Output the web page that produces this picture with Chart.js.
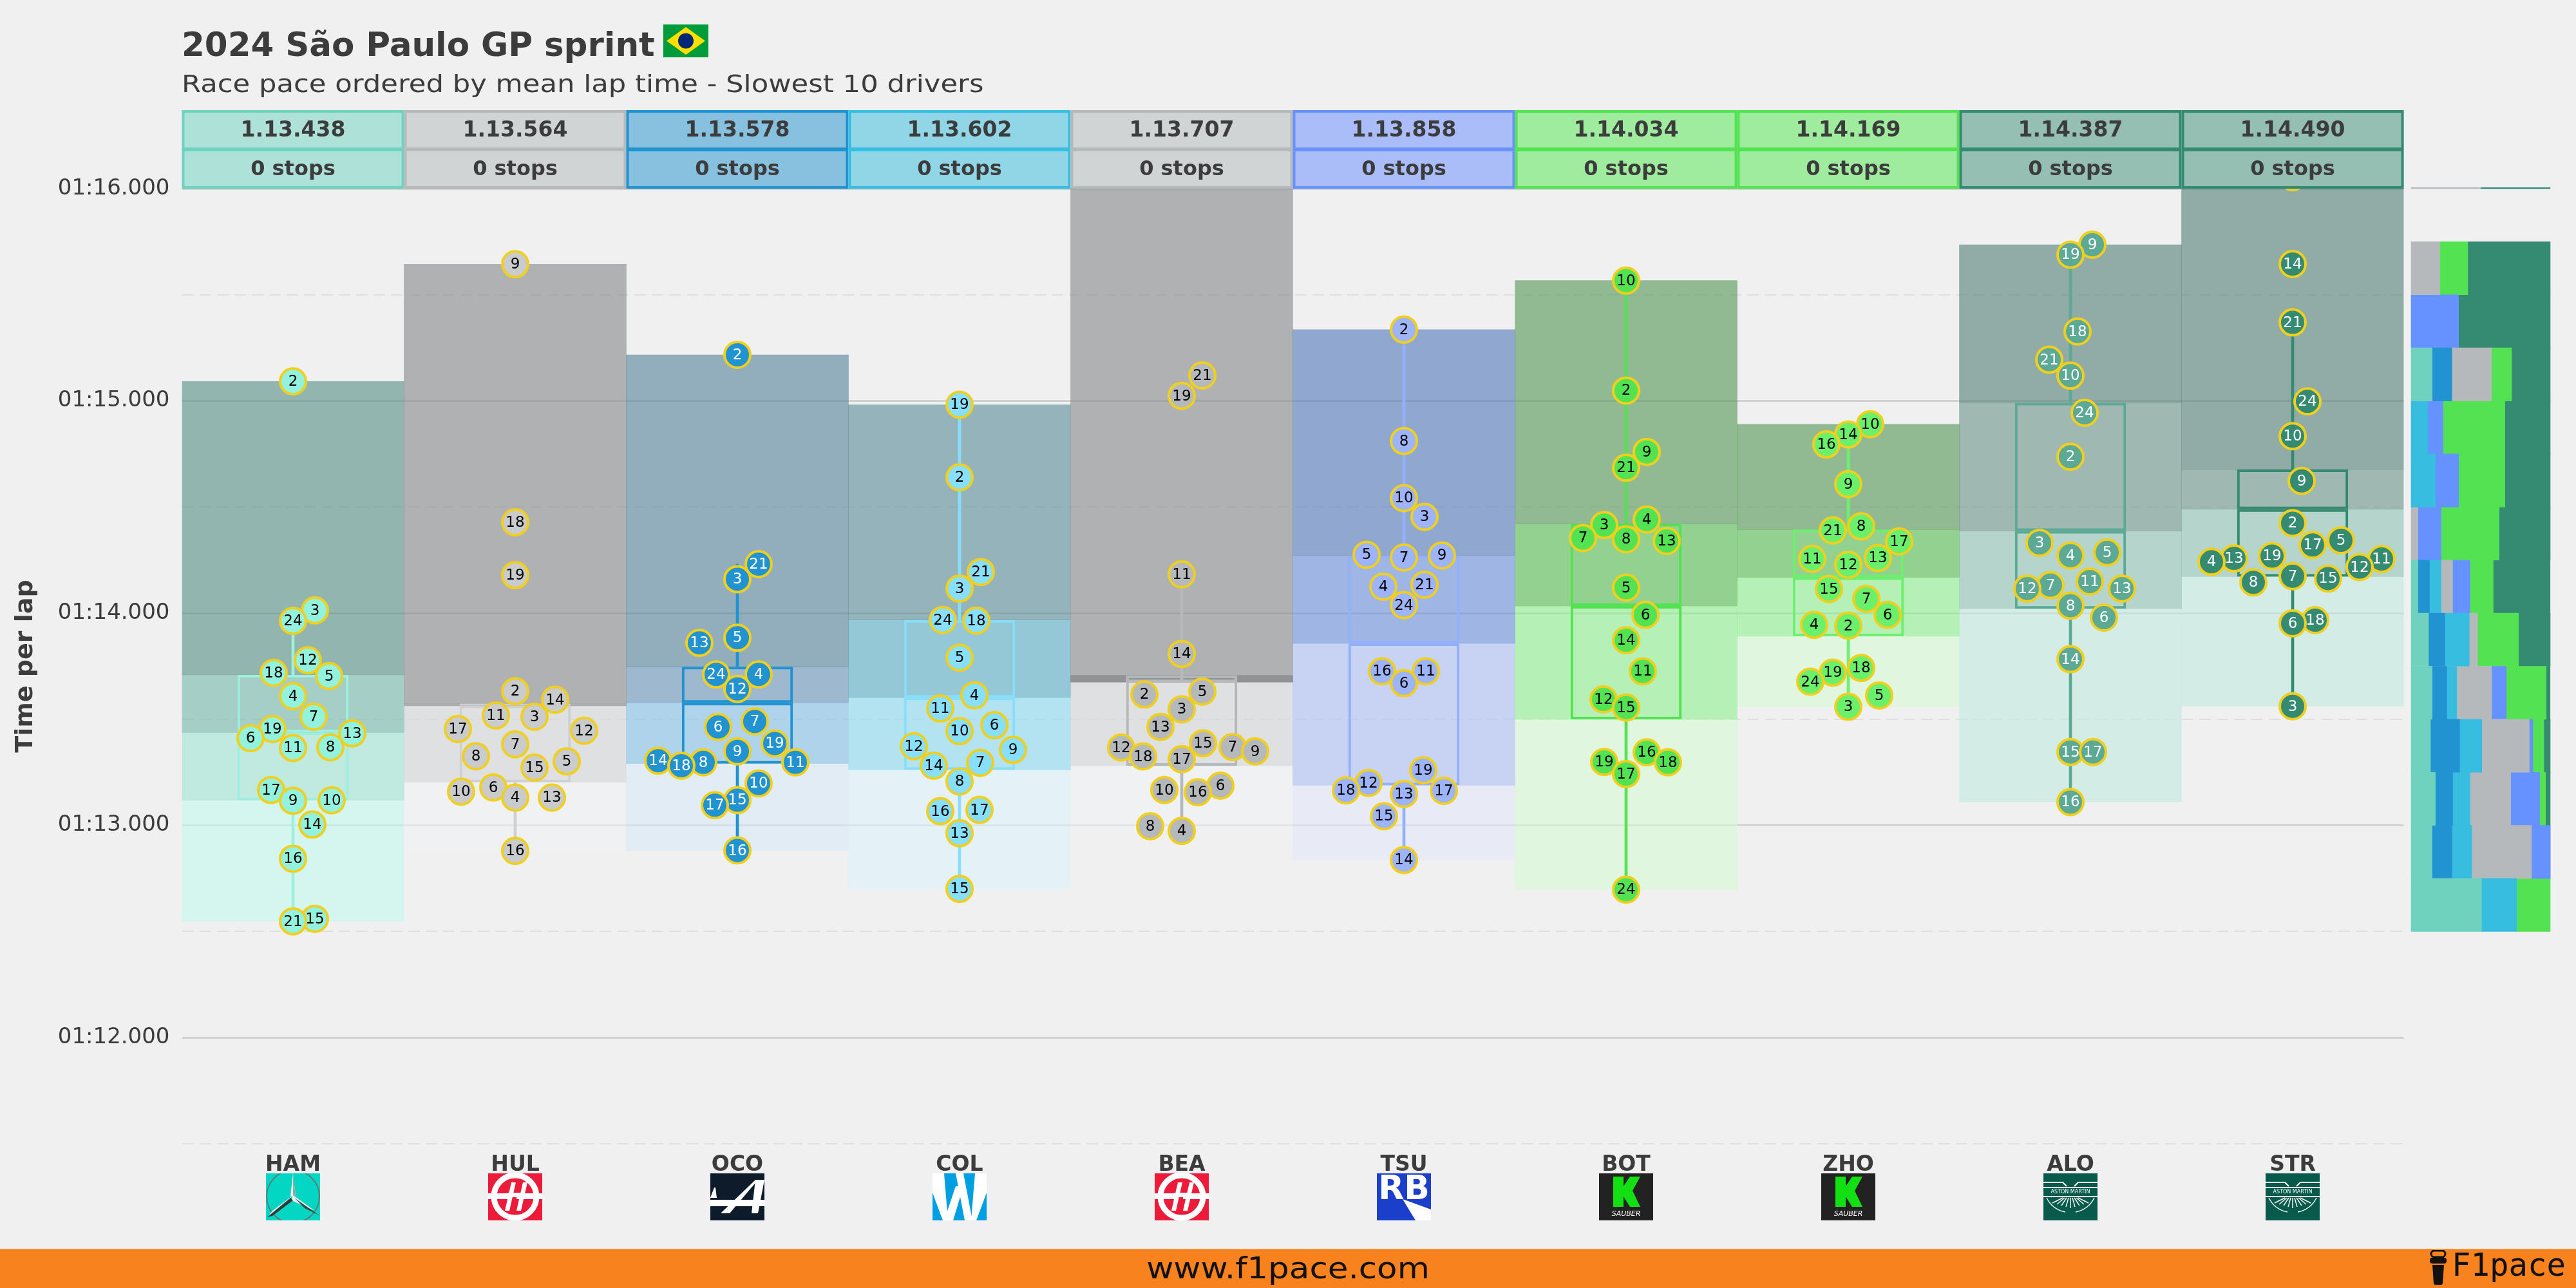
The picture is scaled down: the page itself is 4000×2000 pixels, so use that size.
<!DOCTYPE html>
<html><head><meta charset="utf-8">
<script src="https://cdn.jsdelivr.net/npm/chart.js@4"></script>
<style>
html,body{margin:0;padding:0;background:#f0f0f0;width:4000px;height:2000px;overflow:hidden;font-family:"DejaVu Sans"}
canvas{position:absolute;left:0;top:0}
.t{position:absolute;white-space:nowrap;color:#3c3c3c}
#title{left:282px;top:39px;font:bold 52px "DejaVu Sans";transform:scaleX(.99);transform-origin:0 0}
#sub{left:282px;top:108px;font:38px "DejaVu Sans";transform:scaleX(1.14);transform-origin:0 0}
#bar{position:absolute;left:0;top:1939px;width:4000px;height:61px;background:#f7821e;border-top:1px solid #f3a868;box-sizing:border-box}
#url{left:0;width:4000px;text-align:center;top:1942px;font:46px "DejaVu Sans";color:#111;transform:scaleX(1.12);transform-origin:50% 0}
#brand{left:3807px;top:1936px;font:49px "DejaVu Sans Mono";color:#111}
#ico{position:absolute;left:3770px;top:1941px}
</style></head><body>
<canvas id="main" width="4000" height="2000"></canvas>
<canvas id="side" width="4000" height="2000"></canvas>
<div class="t" id="title">2024 São Paulo GP sprint</div>
<div class="t" id="sub">Race pace ordered by mean lap time - Slowest 10 drivers</div>
<div id="bar"></div>
<div class="t" id="url">www.f1pace.com</div>
<svg id="ico" width="32" height="55" viewBox="0 0 32 55"><rect x="5" y="1" width="22" height="10" rx="5" fill="none" stroke="#111" stroke-width="3"/><rect x="3" y="12" width="26" height="9" rx="4" fill="#111"/><path d="M7 23h18l-2 29a3 3 0 0 1-3 2h-8a3 3 0 0 1-3-2z" fill="#111"/></svg>
<div class="t" id="brand">F1pace</div>
<script>
// ---------- categories ----------
const drivers=['HAM','HUL','OCO','COL','BEA','TSU','BOT','ZHO','ALO','STR'];
const meanLabels=['1.13.438','1.13.564','1.13.578','1.13.602','1.13.707','1.13.858','1.14.034','1.14.169','1.14.387','1.14.490'];
const stopLabels=['0 stops','0 stops','0 stops','0 stops','0 stops','0 stops','0 stops','0 stops','0 stops','0 stops'];
const logos=['mercedes','haas','alpine','williams','haas','rb','sauber','sauber','aston','aston'];

// ---------- box statistics (seconds) ----------
const mins=[72.548,72.880,72.882,72.701,72.974,72.837,72.697,73.559,73.110,73.561];
const q1s=[73.118,73.203,73.291,73.262,73.281,73.189,73.500,73.891,74.021,74.172];
const means=[73.438,73.564,73.578,73.602,73.707,73.858,74.034,74.169,74.387,74.490];
const q3s=[73.709,73.574,73.748,73.968,73.675,74.272,74.421,74.394,74.991,74.677];
const maxs=[75.092,75.644,75.217,74.982,76.100,75.336,75.567,74.890,75.736,76.055];
const whiskLow=[72.548,72.880,72.882,72.701,72.974,72.837,72.697,73.559,73.110,73.561];
const whiskHigh=[74.013,73.632,74.231,74.982,74.183,75.336,75.567,74.890,75.736,75.370];

// ---------- laps: lap number, lap time (s), sideways spread in the swarm (1/345 of a column) ----------
const HAM_laps=[2,3,24,12,18,5,4,7,19,13,6,11,8,17,9,10,14,16,15,21];
const HAM_times=[75.092,74.013,73.964,73.778,73.719,73.704,73.609,73.512,73.454,73.434,73.411,73.365,73.368,73.167,73.116,73.118,73.004,72.843,72.560,72.548];
const HAM_spread=[0,34,0,23,-30,56,0,32,-32,92,-66,0,58,-34,0,60,30,0,34,0];
const HUL_laps=[9,18,19,2,14,11,3,17,12,7,8,5,15,6,10,4,13,16];
const HUL_times=[75.644,74.428,74.179,73.632,73.592,73.518,73.512,73.454,73.446,73.382,73.326,73.302,73.272,73.179,73.159,73.131,73.131,72.880];
const HUL_spread=[0,0,0,0,62,-30,30,-89,107,0,-61,80,30,-34,-84,0,57,0];
const OCO_laps=[2,21,3,5,13,24,4,12,7,6,19,9,14,8,11,18,10,15,17,16];
const OCO_times=[75.217,74.231,74.160,73.884,73.860,73.711,73.711,73.643,73.490,73.464,73.386,73.349,73.305,73.297,73.297,73.281,73.198,73.119,73.095,72.882];
const OCO_spread=[0,33,0,0,-59,-33,33,0,27,-30,58,0,-123,-53,90,-87,33,0,-35,0];
const COL_laps=[19,2,21,3,24,18,5,4,11,6,10,12,9,7,14,8,17,16,13,15];
const COL_times=[74.982,74.640,74.194,74.116,73.968,73.965,73.790,73.613,73.551,73.472,73.444,73.373,73.356,73.295,73.281,73.207,73.073,73.067,72.963,72.701];
const COL_spread=[0,0,33,0,-26,26,0,23,-30,54,0,-71,83,32,-40,0,31,-30,0,0];
const BEA_laps=[24,21,19,11,14,5,2,3,13,15,7,12,9,18,17,6,10,16,8,4];
const BEA_times=[76.100,75.120,75.024,74.183,73.808,73.630,73.617,73.547,73.464,73.387,73.369,73.367,73.349,73.325,73.312,73.187,73.167,73.156,72.996,72.974];
const BEA_spread=[0,32,0,0,0,32,-58,0,-33,33,79,-94,114,-60,0,60,-27,25,-49,0];
const TSU_laps=[2,8,10,3,5,9,7,21,4,24,16,11,6,19,12,18,17,13,15,14];
const TSU_times=[75.336,74.811,74.542,74.454,74.275,74.272,74.262,74.134,74.125,74.038,73.726,73.726,73.670,73.260,73.200,73.165,73.163,73.148,73.043,72.837];
const TSU_spread=[0,0,0,32,-58,59,0,32,-32,0,-34,34,0,30,-55,-90,62,0,-31,0];
const BOT_laps=[10,2,9,21,4,3,7,8,13,5,6,14,11,12,15,16,19,18,17,24];
const BOT_times=[75.567,75.049,74.760,74.685,74.441,74.415,74.354,74.348,74.340,74.120,73.992,73.872,73.726,73.594,73.555,73.344,73.299,73.297,73.242,72.697];
const BOT_spread=[0,0,32,0,32,-34,-67,0,63,0,30,0,26,-35,0,32,-34,65,0,0];
const ZHO_laps=[10,14,16,9,8,21,17,13,11,12,15,7,6,4,2,18,19,24,5,3];
const ZHO_times=[74.890,74.842,74.795,74.608,74.409,74.390,74.338,74.260,74.256,74.228,74.114,74.067,73.992,73.945,73.941,73.742,73.720,73.677,73.612,73.559];
const ZHO_spread=[34,0,-34,0,20,-24,79,46,-56,0,-30,28,61,-53,0,20,-24,-59,48,0];
const ALO_laps=[9,19,18,21,10,24,2,3,5,4,11,7,12,13,8,6,14,15,17,16];
const ALO_times=[75.736,75.689,75.327,75.194,75.119,74.944,74.737,74.331,74.286,74.271,74.149,74.132,74.116,74.116,74.035,73.979,73.783,73.346,73.346,73.110];
const ALO_spread=[34,0,11,-33,0,22,0,-48,57,0,30,-31,-67,80,0,52,0,0,35,0];
const STR_laps=[16,14,21,24,10,9,2,5,17,19,13,11,4,12,7,15,8,18,6,3];
const STR_times=[76.055,75.645,75.370,74.998,74.834,74.623,74.424,74.343,74.321,74.269,74.258,74.255,74.242,74.217,74.174,74.163,74.145,73.967,73.952,73.561];
const STR_spread=[0,0,0,23,0,14,0,75,31,-32,-91,138,-126,104,0,55,-61,35,0,0];

// ---------- side panel: share of laps per team in each 0.25 s bin ----------
const binCentres=[72.625,72.875,73.125,73.375,73.625,73.875,74.125,74.375,74.625,74.875,75.125,75.375,75.625,76.125];
const shareMercedes=[50.6,15,17.4,13.9,15.1,12.5,4.9,0,0,0,15.1,0,0,0];
const shareAlpine=[0,14.4,12.5,21,10.6,11.7,8.3,0,0,0,14.2,0,0,0];
const shareWilliams=[25.2,14.2,12.5,15.9,7.1,17.6,8.3,0,17.4,11.9,0,0,0,0];
const shareHaas=[0,42.9,29.2,34.1,25,5.9,8.3,4.9,0,0,28.5,0,20.7,50];
const shareRB=[0,13.6,20.8,2.6,10.6,0,12.5,16.7,16.7,11.1,0,34.1,0,0];
const shareSauber=[24.2,0,4.2,7.9,28.7,29.5,16.7,41.7,33.3,44.4,14.4,0,20,0];
const shareAston=[0,0,3.4,4.6,2.8,22.8,40.9,36.7,32.6,32.6,27.8,65.9,59.3,50];

// ---------- styles ----------
const F='"DejaVu Sans"', INK='#3c3c3c', BG=240;
const markFill=['#92f2dd','#c9cbcd','#2293d1','#88dffa','#b6b9bc','#9db4f8','#52e252','#6af06a','#5ca996','#358a72'];
const boxCol=['#9ef0de','#cfd0d2','#2293d1','#86defb','#b6b9bc','#95b0fb','#52e252','#6df06d','#5ca996','#358a72'];
const labelCol=['#000','#000','#fff','#000','#000','#000','#000','#000','#fff','#fff'];
const headFill=['#aee1d8','#d1d4d5','#88c0e0','#91d6e7','#d1d4d5','#abbdf9','#a0ec9e','#a0ec9e','#94bfb2','#94bfb2'];
const headEdge=['#6fd2bf','#b6b9bc','#2293d1','#37bde0','#b6b9bc','#6692ff','#52e252','#52e252','#358a72','#358a72'];
const bandTop=['#92b5af','#b0b1b3','#92adbb','#94b3ba','#b0b1b3','#90a8cf','#92ba92','#92ba92','#91aca6','#91aca6'];
const bandUp=['#a5cfc6','#acaeb0','#9db8cf','#94c8d6','#acaeb0','#9fb5e3','#93d190','#93d190','#9fb9b2','#9fb9b2'];
const bandDown=['#c0e9e0','#dfe0e2','#b0d3ec','#b3e3f1','#dfe0e2','#c8d3f3','#b5f0b6','#b5f0b6','#b4d4cc','#b4d4cc'];
const bandLow=['#d5f6ee','#f0f1f3','#e2ecf5','#e4f1f7','#f0f1f3','#e8ebf6','#e1f6df','#e1f6df','#d3ede6','#d3ede6'];
const A=.6;
function glass(hex){const n=parseInt(hex.slice(1),16),c=[n>>16,(n>>8)&255,n&255].map(v=>Math.max(0,Math.round((v-(1-A)*BG)/A)));return `rgba(${c[0]},${c[1]},${c[2]},${A})`;}

const lapSets=[[HAM_laps,HAM_times,HAM_spread],[HUL_laps,HUL_times,HUL_spread],[OCO_laps,OCO_times,OCO_spread],[COL_laps,COL_times,COL_spread],[BEA_laps,BEA_times,BEA_spread],[TSU_laps,TSU_times,TSU_spread],[BOT_laps,BOT_times,BOT_spread],[ZHO_laps,ZHO_times,ZHO_spread],[ALO_laps,ALO_times,ALO_spread],[STR_laps,STR_times,STR_spread]];
const span=(a,b)=>a.map((v,i)=>[v,b[i]]);
const band=(lo,hi,col)=>({type:'bar',xAxisID:'x',yAxisID:'y',order:5,grouped:false,barPercentage:1,categoryPercentage:1,borderWidth:0,backgroundColor:col.map(glass),data:span(lo,hi)});
const box=(lo,hi)=>({type:'bar',xAxisID:'x',yAxisID:'y',order:3,grouped:false,barPercentage:.5,categoryPercentage:1,borderWidth:4,borderSkipped:false,borderColor:boxCol,backgroundColor:'rgba(0,0,0,0)',data:span(lo,hi)});
const whisk=(lo,hi)=>({type:'bar',xAxisID:'x',yAxisID:'y',order:2,grouped:false,barThickness:4,borderWidth:0,backgroundColor:boxCol,data:span(lo,hi)});
const swarm=lapSets.map(([l,t,s],i)=>({type:'scatter',xAxisID:'xs',yAxisID:'y',order:1,lapNumbers:l,labelColour:labelCol[i],pointRadius:20,pointBorderWidth:4,pointBackgroundColor:markFill[i],pointBorderColor:'#f0cf1e',data:t.map((v,k)=>({x:i+s[k]/345,y:v}))}));

function clock(v){const m=Math.floor(v/60),s=v-m*60;return String(m).padStart(2,'0')+':'+String(s).padStart(2,'0')+'.000';}

function drawLogo(c,kind,x,y){const w=84,h=73;c.save();c.beginPath();c.rect(x,y,w,h);c.clip();
 const poly=(col,p)=>{c.fillStyle=col;c.beginPath();p.forEach((q,i)=>i?c.lineTo(x+q[0],y+q[1]):c.moveTo(x+q[0],y+q[1]));c.closePath();c.fill();};
 if(kind==='mercedes'){c.fillStyle='#04d6c4';c.fillRect(x,y,w,h);c.strokeStyle='#5a7f7c';c.lineWidth=2;c.beginPath();c.arc(x+42,y+36,41,0,7);c.stroke();
  poly('#eef2f2',[[42,0],[46,36],[38,36]]);poly('#9aa5a5',[[42,0],[46,36],[42,38]]);poly('#f4f6f6',[[42,34],[84,64],[76,58],[40,42]]);poly('#2f3b3b',[[38,38],[42,42],[10,66],[2,68]]);poly('#dfe5e5',[[42,34],[38,38],[4,66],[10,58]]);poly('#3a4646',[[44,38],[84,66],[60,54]]);}
 if(kind==='haas'){c.fillStyle='#ec1b3a';c.fillRect(x,y,w,h);c.strokeStyle='#fff';c.lineWidth=9;c.beginPath();c.arc(x+42,y+36,33,0,7);c.stroke();c.fillStyle='#fff';c.fillRect(x,y+31,36,9);c.fillRect(x+44,y+31,40,9);
  poly('#fff',[[36,14],[43,14],[33,58],[26,58]]);poly('#fff',[[54,14],[61,14],[51,58],[44,58]]);c.fillRect(x+30,y+30,26,7);}
 if(kind==='alpine'){c.fillStyle='#0e1b2a';c.fillRect(x,y,w,h);poly('#fff',[[70,10],[84,10],[74,62],[64,62]]);poly('#fff',[[70,10],[74,10],[30,62],[16,62]]);poly('#fff',[[6,22],[8,22],[10,38],[0,38]]);c.fillStyle='#fff';c.fillRect(x,y+41,84,10);}
 if(kind==='williams'){c.fillStyle='#009fe3';c.fillRect(x,y,w,h);poly('#fff',[[0,0],[18,0],[24,73],[16,73],[0,30]]);poly('#fff',[[36,0],[48,0],[62,73],[50,73]]);poly('#fff',[[66,0],[84,0],[84,30],[68,73],[60,73]]);poly('#fff',[[18,73],[36,20],[48,20],[32,73]]);}
 if(kind==='rb'){c.fillStyle='#1b3fcb';c.fillRect(x,y,w,h);c.fillStyle='#fff';c.font='bold 52px '+F;c.textAlign='center';c.textBaseline='middle';c.fillText('RB',x+42,y+26);poly('#fff',[[40,40],[84,56],[84,73],[60,73]]);}
 if(kind==='sauber'){c.fillStyle='#222';c.fillRect(x,y,w,h);poly('#12e012',[[22,5],[38,5],[38,20],[48,5],[64,5],[52,27],[64,52],[48,52],[38,36],[38,52],[22,52]]);c.fillStyle='#fff';c.font='italic 11px '+F;c.textAlign='center';c.textBaseline='middle';c.fillText('SAUBER',x+42,y+63);}
 if(kind==='aston'){c.fillStyle='#075a4c';c.fillRect(x,y,w,h);c.strokeStyle='#fff';c.lineWidth=2;c.beginPath();c.moveTo(x,y+14);c.lineTo(x+30,y+14);c.lineTo(x+36,y+20);c.moveTo(x+84,y+14);c.lineTo(x+54,y+14);c.lineTo(x+48,y+20);c.moveTo(x,y+22);c.lineTo(x+84,y+22);c.moveTo(x,y+36);c.lineTo(x+84,y+36);c.stroke();
  c.lineWidth=1.4;c.beginPath();for(let a=-4;a<=4;a++){c.moveTo(x+42+a*3,y+38);c.lineTo(x+42+a*7,y+54-Math.abs(a)*2);}c.moveTo(x+5,y+38);c.quadraticCurveTo(x+14,y+56,x+34,y+60);c.moveTo(x+79,y+38);c.quadraticCurveTo(x+70,y+56,x+50,y+60);c.stroke();
  c.fillStyle='#fff';c.font='8px '+F;c.textAlign='center';c.textBaseline='middle';c.fillText('ASTON MARTIN',x+42,y+29);}
 c.restore();}

const decor={id:'decor',afterDatasetsDraw(chart){const c=chart.ctx,xs=chart.scales.x,a=chart.chartArea;
 c.save();c.font='23px '+F;c.textAlign='center';c.textBaseline='middle';
 chart.data.datasets.forEach((d,di)=>{if(d.type!=='scatter')return;const m=chart.getDatasetMeta(di);c.fillStyle=d.labelColour;m.data.forEach((p,k)=>{if(p.y>=a.top)c.fillText(String(d.lapNumbers[k]),p.x,p.y+1);});});
 drivers.forEach((n,i)=>{const cx=xs.getPixelForValue(i),w=345,l=cx-w/2;
  [[171,62],[231,62]].forEach(([t,h])=>{c.fillStyle=headFill[i];c.fillRect(l,t,w,h);c.strokeStyle=headEdge[i];c.lineWidth=4;c.strokeRect(l+2,t+2,w-4,h-4);});
  c.fillStyle=INK;c.font='bold 33px '+F;c.fillText(meanLabels[i],cx,203);c.font='bold 32px '+F;c.fillText(stopLabels[i],cx,264);
  drawLogo(c,logos[i],Math.round(cx-42),1822);});
 // flag
 const fx=1030,fy=38,fw=70,fh=51;c.fillStyle='#009b3a';c.fillRect(fx,fy,fw,fh);c.fillStyle='#fedf00';c.beginPath();c.moveTo(fx+5,fy+fh/2);c.lineTo(fx+fw/2,fy+4);c.lineTo(fx+fw-5,fy+fh/2);c.lineTo(fx+fw/2,fy+fh-4);c.closePath();c.fill();c.fillStyle='#002776';c.beginPath();c.arc(fx+fw/2,fy+fh/2,12,0,7);c.fill();
 c.restore();}};

new Chart(document.getElementById('main'),{type:'bar',plugins:[decor],data:{labels:drivers,datasets:[
  band(q3s,maxs,bandTop),band(means,q3s,bandUp),band(q1s,means,bandDown),band(mins,q1s,bandLow),
  box(q1s,means),box(means,q3s),whisk(q3s,whiskHigh),whisk(whiskLow,q1s),...swarm]},
 options:{responsive:false,animation:false,devicePixelRatio:1,events:[],
  layout:{padding:{left:0,top:293,right:267.5,bottom:0}},
  plugins:{legend:{display:false},tooltip:{enabled:false},title:{display:false}},
  scales:{
   x:{type:'category',offset:true,grid:{display:false},border:{display:false},
      ticks:{autoSkip:false,maxRotation:0,padding:6,color:INK,font:{family:F,weight:'bold',size:33}},
      afterFit(s){s.height=224;}},
   xs:{type:'linear',display:false,offset:false,min:-.5,max:9.5},
   y:{type:'linear',min:71.5,max:76,offset:false,
      ticks:{stepSize:.5,padding:19,color:INK,font:{family:F,size:34},callback:v=>Number.isInteger(v)?clock(v):''},
      grid:{drawTicks:false,color:c=>Number.isInteger(c.tick.value)?'#d2d2d2':'#e0e0e0',lineWidth:c=>Number.isInteger(c.tick.value)?3:2},
      border:{display:false,dash:c=>Number.isInteger(c.tick.value)?[]:[18,9]},
      title:{display:true,text:'Time per lap',color:INK,font:{family:F,weight:'bold',size:38},padding:{top:17,bottom:0}},
      afterFit(s){s.width=282.5;}}
  }}});

const teamCols=[['#6fd2bf',shareMercedes],['#2293d1',shareAlpine],['#37bde0',shareWilliams],['#b6b9bc',shareHaas],['#6692ff',shareRB],['#52e252',shareSauber],['#358a72',shareAston]];
new Chart(document.getElementById('side'),{type:'bar',data:{datasets:teamCols.map(([col,v])=>({stack:'p',clip:2,backgroundColor:col,borderWidth:0,barPercentage:1,categoryPercentage:1,data:v.map((s,i)=>({x:s,y:binCentres[i]})).filter(d=>d.x>0)}))},
 options:{indexAxis:'y',responsive:false,animation:false,devicePixelRatio:1,events:[],
  layout:{padding:{left:3744,right:40,top:293,bottom:224}},
  plugins:{legend:{display:false},tooltip:{enabled:false}},
  scales:{x:{type:'linear',stacked:true,offset:false,min:0,max:100,display:false},y:{type:'linear',stacked:true,offset:false,min:71.5,max:76,display:false}}}});
</script>
</body></html>
